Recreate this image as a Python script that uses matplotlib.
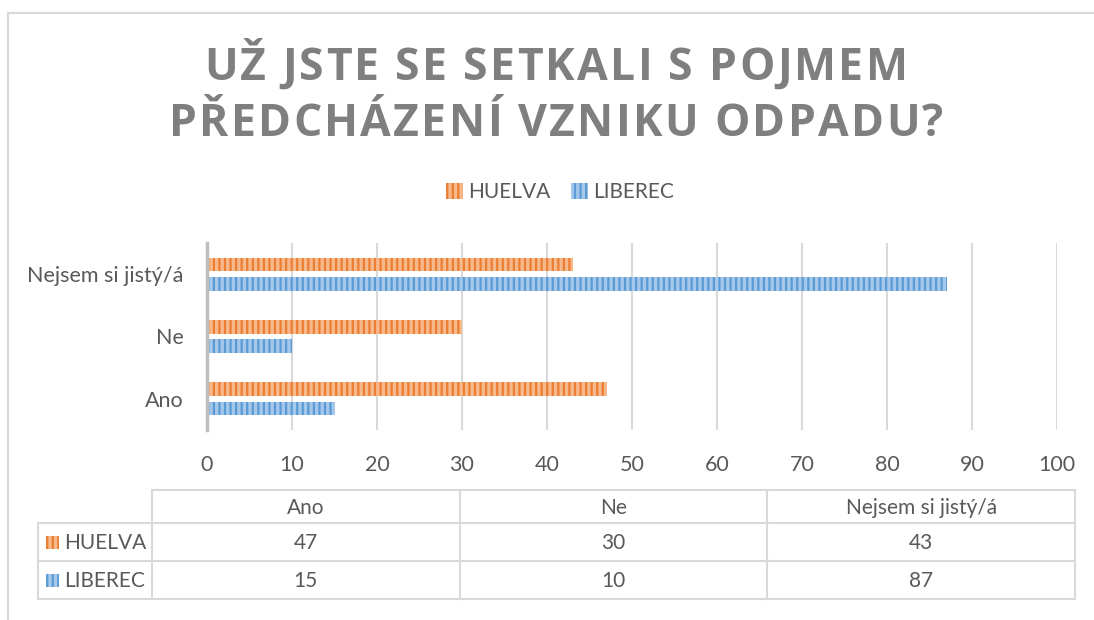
import numpy as np
import matplotlib
matplotlib.use("Agg")
import matplotlib.pyplot as plt
from matplotlib.patches import Rectangle

# Data
categories = ["Ano", "Ne", "Nejsem si jistý/á"]
series_names = ["HUELVA", "LIBEREC"]
huelva = [47, 30, 43]
liberec = [15, 10, 87]
x_ticks = [0, 10, 20, 30, 40, 50, 60, 70, 80, 90, 100]
title_lines = ["UŽ JSTE SE SETKALI S POJMEM", "PŘEDCHÁZENÍ VZNIKU ODPADU?"]

# Styling
dark = {"HUELVA": "#ED7D31", "LIBEREC": "#5B9BD5"}
light = {"HUELVA": "#F6B98C", "LIBEREC": "#A4C7EA"}
text_col = "#595959"
grid_col = "#D9D9D9"
body_font = ["Lato", "DejaVu Sans"]

plt.rcParams["font.family"] = body_font
plt.rcParams["hatch.linewidth"] = 1.6

W, H = 1094, 620
fig = plt.figure(figsize=(W / 100, H / 100), dpi=100)

# overlay in pixel coordinates for frame, title and table
over = fig.add_axes([0, 0, 1, 1])
over.set_xlim(0, W)
over.set_ylim(H, 0)
over.axis("off")

# chart frame
over.plot([8, 8, W], [H, 13, 13], color="#D9D9D9", lw=1.5, zorder=1)


def spaced_text(ax, text, cx, y, spacing, **kw):
    renderer = fig.canvas.get_renderer()
    t = ax.text(0, 0, "", **kw)
    prop = t.get_fontproperties()
    t.remove()
    widths = [renderer.get_text_width_height_descent(c, prop, ismath=False)[0] for c in text]
    total = sum(widths) + spacing * (len(text) - 1)
    x = cx - total / 2
    for c, w in zip(text, widths):
        ax.text(x, y, c, ha="left", va="baseline", **kw)
        x += w + spacing


title_kw = dict(fontsize=32, fontweight="bold", color="#7F7F7F",
                family=["Open Sans", "DejaVu Sans"])
spaced_text(over, title_lines[0], 556, 80, 2.3, **title_kw)
spaced_text(over, title_lines[1], 556, 136, 2.3, **title_kw)

# main bar chart
ax = fig.add_axes([207 / W, 1 - 430 / H, 850 / W, 187 / H])
y = np.arange(len(categories))
h = 0.215
off = 0.155
ax.barh(y + off, huelva, height=h, color=light["HUELVA"], edgecolor=dark["HUELVA"],
        hatch="|||", linewidth=0, label="HUELVA", zorder=3)
ax.barh(y - off, liberec, height=h, color=light["LIBEREC"], edgecolor=dark["LIBEREC"],
        hatch="|||", linewidth=0, label="LIBEREC", zorder=3)

ax.set_xlim(0, 100)
ax.set_ylim(-0.5, len(categories) - 0.5)
ax.set_xticks(x_ticks)
ax.set_yticks(y)
ax.set_yticklabels(categories)
ax.tick_params(axis="both", length=0, labelsize=15.5, colors=text_col)
ax.tick_params(axis="x", pad=18)
ax.tick_params(axis="y", pad=17)
ax.grid(axis="x", color=grid_col, lw=1.5, zorder=0)
for s in ["top", "right", "bottom"]:
    ax.spines[s].set_visible(False)
ax.spines["left"].set_color("#BFBFBF")
ax.spines["left"].set_linewidth(2.5)
ax.spines["left"].set_zorder(4)

leg = ax.legend(loc="center", bbox_to_anchor=((560 - 207) / 850, 1 + (243 - 192) / 187),
                ncol=2, frameon=False, fontsize=15, handlelength=0.8, handleheight=0.8,
                handletextpad=0.25, columnspacing=1.0)
for t in leg.get_texts():
    t.set_color(text_col)

# data table below the chart
row_left, label_right = 38, 152
col_w = 307.7
top, head_bot = 490, 523
row_h = 38
tab_col = "#D9D9D9"
n_cols = len(categories)
right = label_right + n_cols * col_w
bottom = head_bot + row_h * len(series_names)

# horizontal lines
over.plot([label_right, right], [top, top], color=tab_col, lw=1.5)
for i in range(len(series_names) + 1):
    yy = head_bot + i * row_h
    over.plot([row_left, right], [yy, yy], color=tab_col, lw=1.5)
# vertical lines
over.plot([row_left, row_left], [head_bot, bottom], color=tab_col, lw=1.5)
for j in range(n_cols + 1):
    xx = label_right + j * col_w
    over.plot([xx, xx], [top, bottom], color=tab_col, lw=1.5)

for j, cat in enumerate(categories):
    over.text(label_right + (j + 0.5) * col_w, (top + head_bot) / 2 + 1, cat,
              ha="center", va="center", fontsize=15, color=text_col)

table_vals = [huelva, liberec]
for i, (name, vals) in enumerate(zip(series_names, table_vals)):
    yc = head_bot + (i + 0.5) * row_h
    over.add_patch(Rectangle((46, yc - 6.5), 13, 13, facecolor=light[name],
                             edgecolor=dark[name], hatch="|||", linewidth=0))
    over.text(64, yc + 1, name, ha="left", va="center", fontsize=15, color=text_col)
    for j, v in enumerate(vals):
        over.text(label_right + (j + 0.5) * col_w, yc + 1, str(v),
                  ha="center", va="center", fontsize=15, color=text_col)

fig.savefig("out.png", dpi=100)
